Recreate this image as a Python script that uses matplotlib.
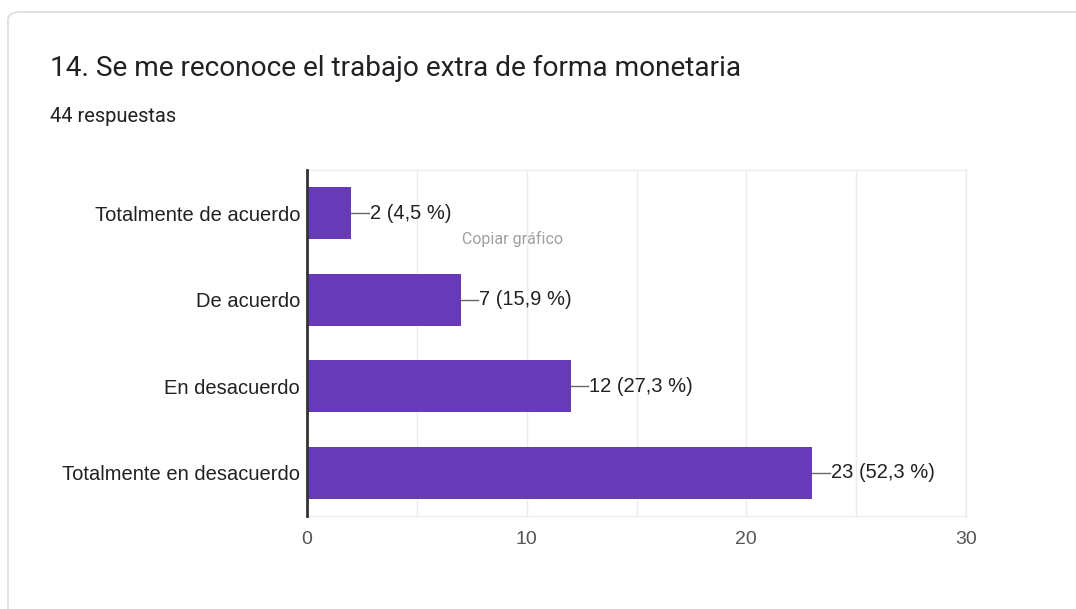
import matplotlib.pyplot as plt
import matplotlib.patches as mpatches
from matplotlib.ticker import MultipleLocator

categories = ['Totalmente de acuerdo', 'De acuerdo', 'En desacuerdo', 'Totalmente en desacuerdo']
counts = [2, 7, 12, 23]
percents = [4.5, 15.9, 27.3, 52.3]
total = 44
xticks = [0, 10, 20, 30]

bar_color = '#673ab7'
text_color = '#212121'

W, H = 1076, 609
fig = plt.figure(figsize=(W / 100, H / 100), dpi=100)
fig.patch.set_facecolor('white')

# Card outline, runs off the right and bottom edges
card = mpatches.FancyBboxPatch((8 / W, -0.2), 1.2, 1 - 12 / H + 0.2,
                               boxstyle='round,pad=0,rounding_size=0.012',
                               transform=fig.transFigure, facecolor='none',
                               edgecolor='#dadce0', linewidth=1.2, zorder=-5)
fig.patches.append(card)

fig.text(50 / W, 1 - 68 / H, '14. Se me reconoce el trabajo extra de forma monetaria',
         fontsize=20.2, family='Roboto', color='#202124', va='center', ha='left')
fig.text(50 / W, 1 - 116 / H, f'{total} respuestas',
         fontsize=14.5, family='Roboto', color='#202124', va='center', ha='left')

ax = fig.add_axes([307 / W, 1 - 516 / H, (966 - 307) / W, (516 - 170) / H])
ax.set_facecolor('none')
y = list(range(len(categories)))
ax.barh(y, counts, height=0.6, color=bar_color, zorder=3)
ax.set_ylim(len(categories) - 0.5, -0.5)
ax.set_xlim(0, 30)

ax.set_yticks(y)
ax.set_yticklabels(categories, family='Liberation Sans', fontsize=14.5, color=text_color)
ax.set_xticks(xticks)
ax.set_xticklabels([str(t) for t in xticks], family='Liberation Sans', fontsize=14, color='#555555')
ax.tick_params(axis='both', length=0, pad=5)
ax.tick_params(axis='x', pad=11)

ax.xaxis.set_minor_locator(MultipleLocator(5))
ax.tick_params(axis='x', which='minor', length=0)
ax.grid(axis='x', which='both', color='#ebebeb', linewidth=1, zorder=0)

for side in ['top', 'right']:
    ax.spines[side].set_color('#ebebeb')
    ax.spines[side].set_linewidth(1)
ax.spines['bottom'].set_color('#ebebeb')
ax.spines['left'].set_color('#333333')
ax.spines['left'].set_linewidth(2)
ax.spines['left'].set_zorder(4)

# Value labels with short leader lines
for yi, c, p in zip(y, counts, percents):
    ax.plot([c, c + 0.8], [yi, yi], color='#666666', linewidth=1, zorder=3)
    label = f'{c} ({p:.1f} %)'.replace('.', ',')
    ax.text(c + 0.85, yi, label, va='center', ha='left', family='Liberation Sans',
            fontsize=14.5, color=text_color, zorder=4)

fig.text(512 / W, 1 - 239 / H, 'Copiar gráfico', fontsize=11.5, family='Roboto',
         color='#a0a0a0', va='center', ha='center')

fig.savefig('out.png', dpi=100)
